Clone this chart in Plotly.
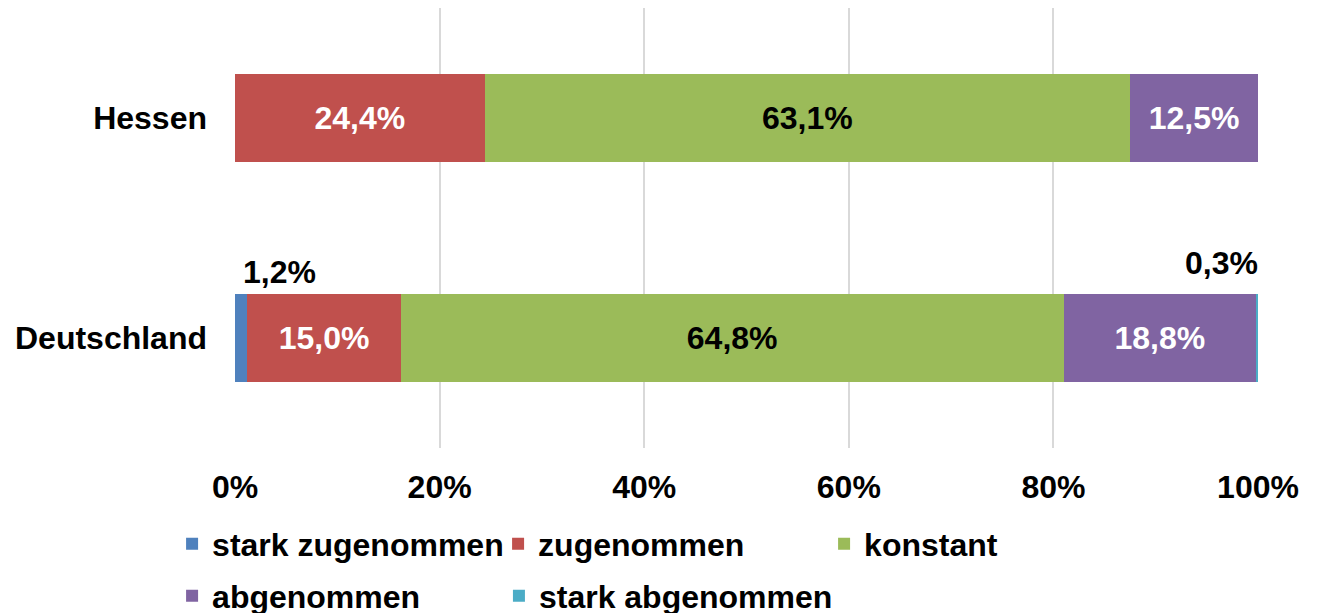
import plotly.graph_objects as go

categories = ["Hessen", "Deutschland"]
series_names = ["stark zugenommen", "zugenommen", "konstant", "abgenommen", "stark abgenommen"]
colors = ["#4F81BD", "#C0504D", "#9BBB59", "#8064A2", "#4BACC6"]
label_colors = ["white", "white", "black", "white", "white"]
values = {
    "stark zugenommen": [0.0, 1.2],
    "zugenommen": [24.4, 15.0],
    "konstant": [63.1, 64.8],
    "abgenommen": [12.5, 18.8],
    "stark abgenommen": [0.0, 0.3],
}
x_ticks = [0, 20, 40, 60, 80, 100]
x_tick_labels = ["0%", "20%", "40%", "60%", "80%", "100%"]

FONT = "Liberation Sans, Arial, sans-serif"
FS = 32

legend_ids = ["legend", "legend", "legend", "legend2", "legend3"]


def fmt(v):
    return f"{v:.1f}%".replace(".", ",")


def bfont(color="black"):
    return dict(family=FONT, size=FS, color=color, weight="bold")


fig = go.Figure()
for i, name in enumerate(series_names):
    vals = values[name]
    texts = [fmt(v) if v >= 5 else "" for v in vals]
    fig.add_trace(go.Bar(
        name=name,
        y=categories,
        x=vals,
        orientation="h",
        marker=dict(color=colors[i], line=dict(width=0)),
        text=texts,
        textposition="inside",
        insidetextanchor="middle",
        insidetextfont=bfont(label_colors[i]),
        constraintext="none",
        legend=legend_ids[i],
    ))

# small outside labels for Deutschland
de = categories.index("Deutschland")
sz = values["stark zugenommen"][de]
sa = values["stark abgenommen"][de]
fig.add_annotation(x=0, y="Deutschland", text=fmt(sz), showarrow=False,
                   xanchor="left", yanchor="bottom", yshift=46, xshift=6,
                   font=bfont())
fig.add_annotation(x=100, y="Deutschland", text=fmt(sa), showarrow=False,
                   xanchor="right", yanchor="bottom", yshift=55, xshift=2,
                   font=bfont())

legend_common = dict(
    orientation="h",
    font=bfont(),
    entrywidth=281, entrywidthmode="pixels",
    bgcolor="rgba(0,0,0,0)",
    traceorder="normal",
    xanchor="left", yanchor="middle",
    itemclick=False, itemdoubleclick=False,
)
legend3_common = dict(legend_common, entrywidth=0)

fig.update_layout(
    barmode="stack",
    bargap=0.6,
    width=1310, height=620,
    margin=dict(l=227, r=60, t=0, b=180, autoexpand=False),
    plot_bgcolor="white",
    paper_bgcolor="white",
    font=dict(family=FONT, size=FS, color="black"),
    uniformtext=dict(minsize=FS, mode="show"),
    showlegend=True,
    legend=dict(x=-0.0615, y=-0.218, **legend_common),
    legend2=dict(x=-0.0615, y=-0.336, **legend_common),
    legend3=dict(x=0.258, y=-0.336, **legend3_common),
    xaxis=dict(
        range=[0, 100],
        tickvals=x_ticks,
        ticktext=x_tick_labels,
        showgrid=True, gridcolor="#D9D9D9", gridwidth=1.5,
        zeroline=False, showline=False,
        ticks="", ticklabelstandoff=17,
        tickfont=bfont(),
        fixedrange=True,
    ),
    yaxis=dict(
        categoryorder="array",
        categoryarray=list(reversed(categories)),
        tickvals=categories,
        ticktext=categories,
        showgrid=False, zeroline=False, showline=False,
        ticks="", ticklabelstandoff=27,
        tickfont=bfont(),
        fixedrange=True,
    ),
)

fig.write_html("out.html")
